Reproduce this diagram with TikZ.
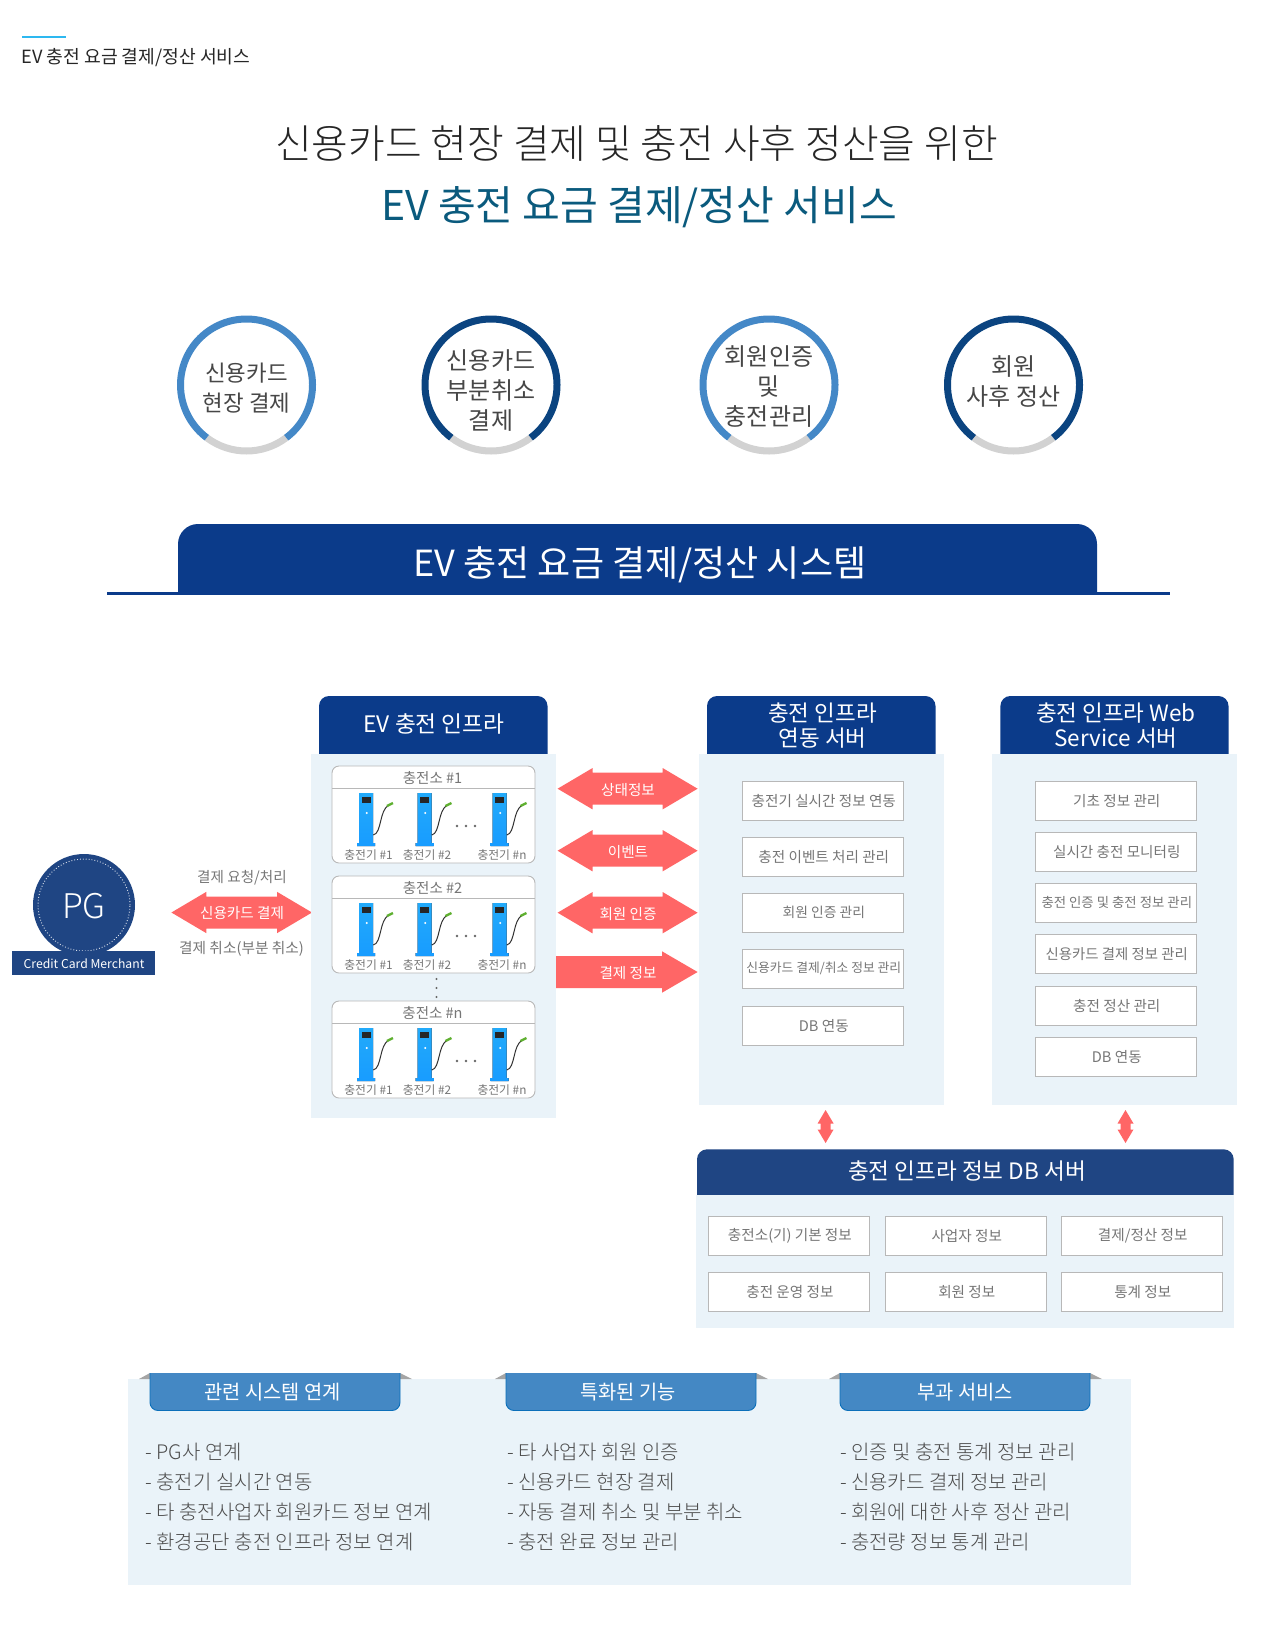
\documentclass[tikz,border=0pt]{standalone}
\usepackage{fontspec}
\setmainfont{Noto Sans CJK KR Light}
\newfontfamily\regf{Noto Sans CJK KR}
\definecolor{navy}{HTML}{0B3B8A}
\definecolor{navyb}{HTML}{1F4583}
\definecolor{ringa}{HTML}{4488C7}
\definecolor{ringb}{HTML}{0B4480}
\definecolor{ringg}{HTML}{D2D2D2}
\definecolor{panel}{HTML}{EAF3F9}
\definecolor{coral}{HTML}{FF6666}
\definecolor{tabfill}{HTML}{4488C4}
\definecolor{tabline}{HTML}{0B6FBA}
\definecolor{boxline}{HTML}{B8B8B8}
\definecolor{txtg}{HTML}{767676}
\definecolor{pilla}{HTML}{22AAFA}
\definecolor{pillb}{HTML}{189CFF}
\definecolor{plug}{HTML}{5FB030}
\definecolor{topline}{HTML}{2DB8F0}
\definecolor{tealt}{HTML}{0A5A7D}
\newcommand{\fsz}[1]{\fontsize{#1}{#1}\selectfont}
\tikzset{
  x=1pt,y=-1pt,
  lbl/.style={inner sep=0pt,outer sep=0pt,align=center,yshift=-1pt},
  wbox/.style={draw=boxline,line width=0.9pt,fill=white,rectangle,inner sep=0pt,text=txtg,align=center},
  panelbg/.style={fill=panel,draw=none},
  pics/charger/.style={code={
    \fill[top color=pilla,bottom color=pillb] (-7,27)--(7,27)--(7,77)--(9,77)--(9,80)--(-9,80)--(-9,77)--(-7,77)--cycle;
    \fill[black!85] (-4.5,31) rectangle (4.5,36.5);
    \fill[white] (0.7,47) circle[radius=1.1pt];
    \draw[black!80,line width=1pt] (7.3,69) .. controls (16,67) and (13,44) .. (23,39);
    \draw[plug,line width=2.4pt] (21,40) -- (27,37);
  }}
}
\newcommand{\topbox}[6]{% x1 x2 top bot r col
  \fill[#6] (#1,#4) [rounded corners=#5pt] -- (#1,#3) -- (#2,#3) [sharp corners] -- (#2,#4) -- cycle;}
\newcommand{\ringnode}[6]{% name x col text yc fontsize
  \node[lbl,font=\regf\fsz{#6},text=black!72] (#1) at (#2,#5) {#4};
  \coordinate (#1c) at (#2,385);
  \draw[line width=7pt,ringg] (#1c) ++(233:66pt) arc[start angle=233,end angle=307,radius=66pt];
  \draw[line width=7pt,#3] (#1c) ++(307:66pt) arc[start angle=307,end angle=593,radius=66pt];}
\newcommand{\dblarrow}[6]{% name tipL tipR y text cx
  \fill[coral] (#2,#4) -- (#2+35,#4-20.7) -- (#2+35,#4-16) -- (#3-35,#4-16) -- (#3-35,#4-20.7) -- (#3,#4) -- (#3-35,#4+20.7) -- (#3-35,#4+16) -- (#2+35,#4+16) -- (#2+35,#4+20.7) -- cycle;
  \node[lbl,text=white,font=\regf\fsz{14.6}] (#1) at (#6,#4) {#5};}
\newcommand{\updown}[2]{% name x
  \fill[coral] (#2,1110) -- (#2+8,1123.5) -- (#2+5,1123.5) -- (#2+5,1129.5) -- (#2+8,1129.5) -- (#2,1143) -- (#2-8,1129.5) -- (#2-5,1129.5) -- (#2-5,1123.5) -- (#2-8,1123.5) -- cycle;
  \coordinate (#1) at (#2,1126);}
\newcommand{\station}[3]{% name top text
  \draw[boxline,line width=0.9pt,fill=white,rounded corners=7pt] (332,#2) rectangle (535,#2+97);
  \draw[boxline,line width=0.9pt] (332,#2+22) -- (535,#2+22);
  \node[lbl,text=txtg,font=\regf\fsz{14.5}] (#1t) at (432.5,#2+11) {#3};
  \pic at (366,#2) {charger};
  \pic at (424.5,#2) {charger};
  \pic at (499.5,#2) {charger};
  \fill[black!60] (457,#2+60) circle[radius=1.3pt] (466,#2+60) circle[radius=1.3pt] (475,#2+60) circle[radius=1.3pt];
  \node[lbl,text=txtg,font=\regf\fsz{11.8}] (#1a) at (368.5,#2+88.5) {충전기 \#1};
  \node[lbl,text=txtg,font=\regf\fsz{11.8}] (#1b) at (427,#2+88.5) {충전기 \#2};
  \node[lbl,text=txtg,font=\regf\fsz{11.8}] (#1c) at (502,#2+88.5) {충전기 \#n};}
\newcommand{\srvbox}[6]{% name x1 x2 top text font
  \node[wbox,font=\regf\fsz{#6},minimum width=#3pt-#2pt,minimum height=39pt] (#1) at ({(#2+#3)/2},#4+19.5) {\raisebox{-1pt}{\hspace{1.5pt}#5}};}
\newcommand{\tabhead}[5]{% name x1 x2 text cx
  \fill[boxline!90!black] (#2-11,1379) -- (#2,1373) -- (#2,1379) -- cycle;
  \fill[boxline!90!black] (#3+12,1379) -- (#3,1373) -- (#3,1379) -- cycle;
  \draw[tabline,line width=0.9pt,fill=tabfill] (#2,1373) [rounded corners=8pt] -- (#2,1410.5) -- (#3,1410.5) [sharp corners] -- (#3,1373);
  \node[lbl,text=white,font=\regf\fsz{19.8}] (#1) at (#5,1391) {#4};}
\newcommand{\blist}[6]{% name x l1 l2 l3 l4
  \node[lbl,anchor=west,text=black!70,font=\fsz{20}] (#1a) at (#2,1451) {#3};
  \node[lbl,anchor=west,text=black!70,font=\fsz{20}] (#1b) at (#2,1481) {#4};
  \node[lbl,anchor=west,text=black!70,font=\fsz{20}] (#1c) at (#2,1511.3) {#5};
  \node[lbl,anchor=west,text=black!70,font=\fsz{20}] (#1d) at (#2,1541.3) {#6};}
\begin{document}
\begin{tikzpicture}
\useasboundingbox[fill=white] (0,0) rectangle (1267,1644);
% header
\fill[topline] (22,35.5) rectangle (66,38);
\node[lbl,anchor=west,text=black!85,font=\regf\fsz{18.2}] (crumb) at (21.5,57) {EV 충전 요금 결제/정산 서비스};
\node[lbl,text=black!85,font=\fsz{39.9}] (t1) at (636.5,142) {신용카드 현장 결제 및 충전 사후 정산을 위한};
\node[lbl,text=tealt,font=\regf\fsz{41}] (t2) at (639,206.5) {EV 충전 요금 결제/정산 서비스};
% rings
\ringnode{r1}{246.5}{ringa}{신용카드\\[8pt]현장 결제}{387}{22.4}
\ringnode{r2}{491}{ringb}{신용카드\\[6pt]부분취소\\[6pt]결제}{390}{24}
\ringnode{r3}{769}{ringa}{회원인증\\[6pt]및\\[6pt]충전관리}{385.5}{24}
\ringnode{r4}{1013.5}{ringb}{회원\\[6pt]사후 정산}{380.5}{24}
% banner
\draw[navy,line width=3pt] (107,593.5) -- (1170,593.5);
\topbox{178}{1097}{524}{594}{20}{navy}
\node[lbl,text=white,font=\regf\fsz{36}] (bannertxt) at (640,564) {EV 충전 요금 결제/정산 시스템};
% PG
\fill[navyb] (84,905) circle[radius=51pt];
\draw[white!85!navyb,line width=0.9pt,dotted] (84,905) circle[radius=46pt];
\node[lbl,text=white,font=\fsz{34}] (pg) at (84,905) {PG};
\fill[navyb] (12,951) rectangle (155,975);
\node[lbl,text=white,font=\regf\fsz{12.2}] (cc) at (84,963) {Credit Card Merchant};
\node[lbl,text=txtg,font=\regf\fsz{14.6}] (req) at (242,877) {결제 요청/처리};
\node[lbl,text=txtg,font=\regf\fsz{14.7}] (cancel) at (241.5,947.5) {결제 취소(부분 취소)};
\dblarrow{pay}{171.4}{312}{912.5}{신용카드 결제}{242}
% infra column
\topbox{319}{547.5}{696}{760}{10}{navy}
\fill[panelbg] (311,754) rectangle (556,1118);
\node[lbl,text=white,font=\regf\fsz{22.7}] (h1) at (434,722.5) {EV 충전 인프라};
\station{s1}{766}{충전소 \#1}
\station{s2}{876}{충전소 \#2}
\station{s3}{1001}{충전소 \#n}
\fill[black!60] (436.5,979) circle[radius=1.2pt] (436.5,988) circle[radius=1.2pt] (436.5,997) circle[radius=1.2pt];
% middle arrows
\dblarrow{a1}{557.6}{697.6}{788.7}{상태정보}{628}
\dblarrow{a2}{557.6}{697.6}{850.7}{이벤트}{628}
\dblarrow{a3}{557.6}{697.6}{912.7}{회원 인증}{628}
\fill[coral] (556,956) -- (662,956) -- (662,951.3) -- (697.6,972) -- (662,992.7) -- (662,988) -- (556,988) -- cycle;
\node[lbl,text=white,font=\regf\fsz{14.6}] (a4) at (628,972) {결제 정보};
% server col 2
\topbox{707}{935.5}{696}{760}{10}{navy}
\fill[panelbg] (699,754) rectangle (944,1105);
\node[lbl,text=white,font=\regf\fsz{22.5}] (h2) at (822.5,724.5) {충전 인프라\\[2.5pt]연동 서버};
\srvbox{b1}{742.6}{903.5}{781.3}{충전기 실시간 정보 연동}{14.6}
\srvbox{b2}{742.6}{903.5}{837.3}{충전 이벤트 처리 관리}{14.6}
\srvbox{b3}{742.6}{903.5}{893.3}{회원 인증 관리}{13.8}
\srvbox{b4}{742.6}{903.5}{949.3}{신용카드 결제/취소 정보 관리}{12.8}
\srvbox{b5}{742.6}{903.5}{1006.3}{DB 연동}{14.6}
% server col 3
\topbox{1000.4}{1228.5}{696}{760}{10}{navy}
\fill[panelbg] (992,754) rectangle (1237,1105);
\node[lbl,text=white,font=\regf\fsz{22.5}] (h3) at (1116,724.5) {충전 인프라 Web\\[2.5pt]Service 서버};
\srvbox{c1}{1035.6}{1196.5}{781.3}{기초 정보 관리}{14.6}
\srvbox{c2}{1035.6}{1196.5}{832.3}{실시간 충전 모니터링}{14.6}
\srvbox{c3}{1035.6}{1196.5}{883.3}{충전 인증 및 충전 정보 관리}{13.4}
\srvbox{c4}{1035.6}{1196.5}{934.3}{신용카드 결제 정보 관리}{14.4}
\srvbox{c5}{1035.6}{1196.5}{986.3}{충전 정산 관리}{14.6}
\srvbox{c6}{1035.6}{1196.5}{1037.3}{DB 연동}{14.6}
\updown{v1}{825.6}
\updown{v2}{1125.5}
% DB
\topbox{697}{1233.7}{1149.3}{1200}{10}{navyb}
\fill[panelbg] (696,1195) rectangle (1233.7,1327.7);
\node[lbl,text=white,font=\regf\fsz{22.6}] (dbh) at (966.9,1170.5) {충전 인프라 정보 DB 서버};
\srvbox{d1}{708.5}{869.8}{1216.3}{충전소(기) 기본 정보}{14.6}
\srvbox{d2}{885.5}{1046.5}{1216.3}{사업자 정보}{14.6}
\srvbox{d3}{1061.5}{1222.5}{1216.3}{결제/정산 정보}{14.6}
\srvbox{d4}{708.5}{869.8}{1272.3}{충전 운영 정보}{14.6}
\srvbox{d5}{885.5}{1046.5}{1272.3}{회원 정보}{14.6}
\srvbox{d6}{1061.5}{1222.5}{1272.3}{통계 정보}{14.6}
% bottom
\fill[panelbg] (128,1379) rectangle (1130.6,1585);
\tabhead{ta}{150}{400}{관련 시스템 연계}{272.5}
\tabhead{tb}{506}{756}{특화된 기능}{628}
\tabhead{tc}{840}{1090}{부과 서비스}{965}
\blist{la}{145.5}{- PG사 연계}{- 충전기 실시간 연동}{- 타 충전사업자 회원카드 정보 연계}{- 환경공단 충전 인프라 정보 연계}
\blist{lb}{507.5}{- 타 사업자 회원 인증}{- 신용카드 현장 결제}{- 자동 결제 취소 및 부분 취소}{- 충전 완료 정보 관리}
\blist{lc}{840}{- 인증 및 충전 통계 정보 관리}{- 신용카드 결제 정보 관리}{- 회원에 대한 사후 정산 관리}{- 충전량 정보 통계 관리}
\end{tikzpicture}
\end{document}
